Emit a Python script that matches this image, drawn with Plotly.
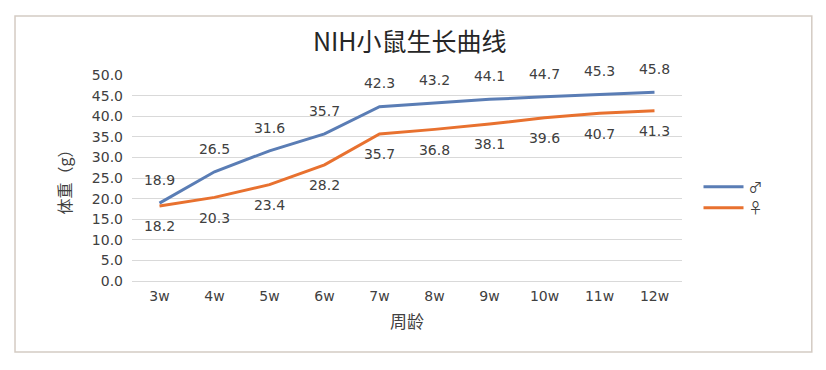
import plotly.graph_objects as go

weeks = ["3w", "4w", "5w", "6w", "7w", "8w", "9w", "10w", "11w", "12w"]
male = [18.9, 26.5, 31.6, 35.7, 42.3, 43.2, 44.1, 44.7, 45.3, 45.8]
female = [18.2, 20.3, 23.4, 28.2, 35.7, 36.8, 38.1, 39.6, 40.7, 41.3]
y_ticks = [0, 5, 10, 15, 20, 25, 30, 35, 40, 45, 50]

FONT = "DejaVu Sans, Verdana, sans-serif"
CJK = "Noto Sans CJK SC, sans-serif"
TXT = "#404040"

fig = go.Figure()
fig.add_trace(go.Scatter(
    x=weeks, y=male, name="♂", mode="lines+markers+text",
    line=dict(color="#5A7DB5", width=3),
    marker=dict(size=22, color="rgba(0,0,0,0)"),
    text=[f"{v:.1f}" for v in male], textposition="top center",
    textfont=dict(family=FONT, size=14, color=TXT), cliponaxis=False,
))
fig.add_trace(go.Scatter(
    x=weeks, y=female, name="♀", mode="lines+markers+text",
    line=dict(color="#E8712F", width=3),
    marker=dict(size=22, color="rgba(0,0,0,0)"),
    text=[f"{v:.1f}" for v in female], textposition="bottom center",
    textfont=dict(family=FONT, size=14, color=TXT), cliponaxis=False,
))

fig.update_layout(
    width=810, height=354,
    margin=dict(l=124, r=136, t=67, b=81, autoexpand=False),
    paper_bgcolor="white", plot_bgcolor="white",
    font=dict(family=FONT, size=14, color=TXT),
    title=dict(text="NIH小鼠生长曲线", x=0.496, xanchor="center", y=0.904, yanchor="middle",
               font=dict(family=CJK, size=25, color="#262626")),
    showlegend=True,
    legend=dict(x=1.03, xanchor="left", y=0.405, yanchor="middle",
                font=dict(family=CJK, size=14, color=TXT), tracegroupgap=0,
                itemwidth=40),
    shapes=[dict(type="rect", xref="paper", yref="paper",
                 x0=-0.2127, x1=1.236, y0=-0.345, y1=1.286,
                 line=dict(color="#d4cbc3", width=1.5), fillcolor="rgba(0,0,0,0)")],
)
fig.update_xaxes(
    type="category", range=[-0.5, 9.5], showgrid=False, showline=False, ticks="", automargin=False,
    tickfont=dict(family=FONT, size=14, color=TXT), ticklabelstandoff=5,
    title=dict(text="周龄", font=dict(family=CJK, size=17, color=TXT), standoff=13),
)
fig.update_yaxes(
    range=[0, 50], tickvals=y_ticks, ticktext=[f"{v:.1f}" for v in y_ticks],
    showgrid=True, gridcolor="#d9d9d9", gridwidth=1, automargin=False,
    zeroline=True, zerolinecolor="#d9d9d9", zerolinewidth=1,
    showline=False, ticks="", ticklabelstandoff=8,
    tickfont=dict(family=FONT, size=14, color=TXT),
    title=dict(text="体重（g）", font=dict(family=CJK, size=16, color=TXT), standoff=16),
)

fig.write_html("out.html")
